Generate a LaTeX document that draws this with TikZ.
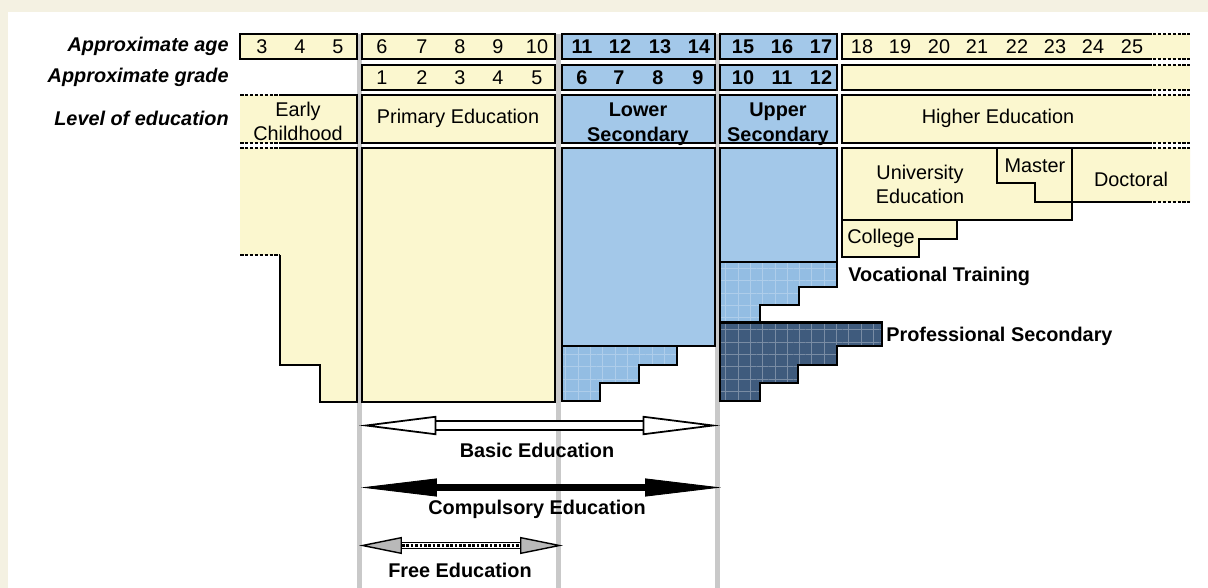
\documentclass[tikz,border=0pt]{standalone}
\usepackage{fontspec}
\setmainfont{Liberation Sans}
\usetikzlibrary{arrows.meta,patterns.meta}
\definecolor{paper}{HTML}{F4F1E2}
\definecolor{cream}{HTML}{FBF7CF}
\definecolor{skyblue}{HTML}{A3C8E9}
\definecolor{stairblue}{HTML}{93BDE3}
\definecolor{navy}{HTML}{3F5B7D}
\definecolor{rulegray}{HTML}{C9C9C9}

\begin{document}
\begin{tikzpicture}[x=0.02cm,y=-0.02cm,
    every node/.style={font=\fontsize{11.3}{14}\selectfont},
    bold/.style={font=\fontsize{11.3}{14}\selectfont\bfseries},
    rowlabel/.style={anchor=east,inner sep=0pt,font=\fontsize{11.3}{14}\selectfont\bfseries\itshape},
    boxline/.style={line width=1.5pt},
    boxdash/.style={line width=1.5pt,dash pattern=on 2pt off 0.8pt},
    stairgrid/.style={preaction={fill=stairblue},pattern={Hatch[distance=7pt,line width=0.3pt]},pattern color=stairblue!75!white},
    navygrid/.style={preaction={fill=navy},pattern={Hatch[distance=7pt,line width=0.35pt]},pattern color=navy!70!white},
    basic/.style={line width=1pt,double=white,double distance=3.8pt,
      >={Triangle[fill=white,length=1.55cm,width=0.38cm,line width=1pt]},<->},
    comp/.style={line width=4.3pt,
      >={Triangle[length=1.52cm,width=0.36cm,line width=0.5pt]},<->},
    free/.style={line width=0.8pt,double=white,double distance=2.4pt,
      >={Triangle[fill=gray!55,length=0.86cm,width=0.34cm,line width=0.8pt]},<->}]
      \useasboundingbox (0,0) rectangle (1208,588);
      \fill[paper] (0,0) rectangle (1208,588);
      \fill[white] (8,12) rectangle (1208,588);
      \draw[rulegray, line width=2.3pt] (359.5,34) -- (359.5,588);
      \draw[rulegray, line width=2.3pt] (558.5,34) -- (558.5,588);
      \draw[rulegray, line width=2.3pt] (717.5,34) -- (717.5,588);
      % early childhood
      \filldraw[fill=cream, boxline] (240,34) rectangle (357,59);
      \fill[cream] (240,95) rectangle (357,143);
      \draw[boxline] (280,95) -- (357,95) -- (357,143) -- (280,143);
      \draw[boxdash] (240,95) -- (280,95) (240,143) -- (280,143);
      \fill[cream] (240,148) -- (357,148) -- (357,402) -- (320,402) -- (320,365) -- (280,365) -- (280,255) -- (240,255) -- cycle;
      \draw[boxline] (280,148) -- (357,148) -- (357,402) -- (320,402) -- (320,365) -- (280,365) -- (280,255);
      \draw[boxdash] (240,148) -- (280,148) (240,255) -- (280,255);
      % primary
      \filldraw[fill=cream, boxline] (362,34) rectangle (555,59);
      \filldraw[fill=cream, boxline] (362,65) rectangle (555,90);
      \filldraw[fill=cream, boxline] (362,95) rectangle (555,143);
      \filldraw[fill=cream, boxline] (362,148) rectangle (555,402);
      % lower secondary
      \filldraw[fill=skyblue, boxline] (562,34) rectangle (715,59);
      \filldraw[fill=skyblue, boxline] (562,65) rectangle (715,90);
      \filldraw[fill=skyblue, boxline] (562,95) rectangle (715,143);
      \filldraw[fill=skyblue, boxline] (562,148) rectangle (715,346);
      \draw[stairgrid, boxline] (562,346) -- (677,346) -- (677,365) -- (639,365) -- (639,383) -- (600,383) -- (600,401) -- (562,401) -- cycle;
      % upper secondary
      \filldraw[fill=skyblue, boxline] (720,34) rectangle (837,59);
      \filldraw[fill=skyblue, boxline] (720,65) rectangle (837,90);
      \filldraw[fill=skyblue, boxline] (720,95) rectangle (837,143);
      \filldraw[fill=skyblue, boxline] (720,148) rectangle (837,262);
      \draw[stairgrid, boxline] (720,262) -- (837,262) -- (837,287) -- (799,287) -- (799,305) -- (760,305) -- (760,322.5) -- (720,322.5) -- cycle;
      \draw[navygrid, boxline] (720,322.5) -- (882,322.5) -- (882,346) -- (837,346) -- (837,365) -- (798,365) -- (798,383) -- (760,383) -- (760,401) -- (720,401) -- cycle;
      % higher education
      \fill[cream] (842,34) rectangle (1190,59);
      \draw[boxline] (1148,34) -- (842,34) -- (842,59) -- (1148,59);
      \draw[boxdash] (1148,34) -- (1190,34) (1148,59) -- (1190,59);
      \fill[cream] (842,65) rectangle (1190,90);
      \draw[boxline] (1148,65) -- (842,65) -- (842,90) -- (1148,90);
      \draw[boxdash] (1148,65) -- (1190,65) (1148,90) -- (1190,90);
      \fill[cream] (842,95) rectangle (1190,143);
      \draw[boxline] (1148,95) -- (842,95) -- (842,143) -- (1148,143);
      \draw[boxdash] (1148,95) -- (1190,95) (1148,143) -- (1190,143);
      \fill[cream] (842,148) -- (1190,148) -- (1190,202) -- (1072,202) -- (1072,220) -- (957,220) -- (957,239) -- (919,239) -- (919,257) -- (842,257) -- cycle;
      \draw[boxline] (1148,148) -- (842,148) -- (842,257) -- (919,257) -- (919,239) -- (957,239) -- (957,220) -- (1072,220) -- (1072,148);
      \draw[boxline] (842,220) -- (957,220);
      \draw[line width=1.2pt] (997,148) -- (997,183) -- (1035,183) -- (1035,202) -- (1148,202);
      \draw[boxdash] (1148,148) -- (1190,148) (1148,202) -- (1190,202);
      % row labels
      \node[rowlabel] (la) at (229,46) {Approximate age};
      \node[rowlabel] (lg) at (229,77) {Approximate grade};
      \node[rowlabel] (ll) at (229,118) {Level of education};
      % ages
      \node (a3) at (262,46.5) {3};
      \node (a4) at (300,46.5) {4};
      \node (a5) at (338,46.5) {5};
      \node (a6) at (382,46.5) {6};
      \node (a7) at (422,46.5) {7};
      \node (a8) at (460,46.5) {8};
      \node (a9) at (498,46.5) {9};
      \node (a10) at (537,46.5) {10};
      \node[bold] (a11) at (582,46.5) {11};
      \node[bold] (a12) at (620,46.5) {12};
      \node[bold] (a13) at (660,46.5) {13};
      \node[bold] (a14) at (699,46.5) {14};
      \node[bold] (a15) at (743,46.5) {15};
      \node[bold] (a16) at (782,46.5) {16};
      \node[bold] (a17) at (821,46.5) {17};
      \node (a18) at (862,46.5) {18};
      \node (a19) at (900,46.5) {19};
      \node (a20) at (939,46.5) {20};
      \node (a21) at (977,46.5) {21};
      \node (a22) at (1017,46.5) {22};
      \node (a23) at (1055,46.5) {23};
      \node (a24) at (1093,46.5) {24};
      \node (a25) at (1132,46.5) {25};
      % grades
      \node (g1) at (382,77.5) {1};
      \node (g2) at (422,77.5) {2};
      \node (g3) at (460,77.5) {3};
      \node (g4) at (498,77.5) {4};
      \node (g5) at (537,77.5) {5};
      \node[bold] (g6) at (582,77.5) {6};
      \node[bold] (g7) at (619,77.5) {7};
      \node[bold] (g8) at (658,77.5) {8};
      \node[bold] (g9) at (698,77.5) {9};
      \node[bold] (g10) at (743,77.5) {10};
      \node[bold] (g11) at (782,77.5) {11};
      \node[bold] (g12) at (821,77.5) {12};
      % levels
      \node[align=center] (ec) at (298,121.5) {Early\\Childhood};
      \node (pe) at (458,118) {Primary Education};
      \node[bold, align=center] (ls) at (638,124.5) {Lower\\Secondary};
      \node[bold, align=center] (us) at (778,124.5) {Upper\\Secondary};
      \node (he) at (998,118) {Higher Education};
      \node[align=center] (ue) at (920,184.5) {University\\Education};
      \node (ma) at (1035,166) {Master};
      \node (dc) at (1131,179) {Doctoral};
      \node (co) at (881,238) {College};
      \node[bold, anchor=west, inner sep=0pt] (vt) at (848,276) {Vocational Training};
      \node[bold, anchor=west, inner sep=0pt] (ps) at (886,336) {Professional Secondary};
      % spans
      \coordinate (b1) at (359,425.5);
      \coordinate (b2) at (720,425.5);
      \coordinate (c1) at (361,487.5);
      \coordinate (c2) at (721,487.5);
      \coordinate (f1) at (359,545.5);
      \coordinate (f2) at (563,545.5);
      \draw[basic] (b1) -- (b2);
      \draw[comp] (c1) -- (c2);
      \draw[free] (f1) -- (f2);
      \draw[line width=1.2pt, dash pattern=on 1.5pt off 1pt, shorten <=0.86cm, shorten >=0.86cm] (f1) -- (f2);
      \node[bold] (be) at (537,450) {Basic Education};
      \node[bold] (ce) at (537,509) {Compulsory Education};
      \node[bold] (fe) at (460,570) {Free Education};
\end{tikzpicture}
\end{document}
